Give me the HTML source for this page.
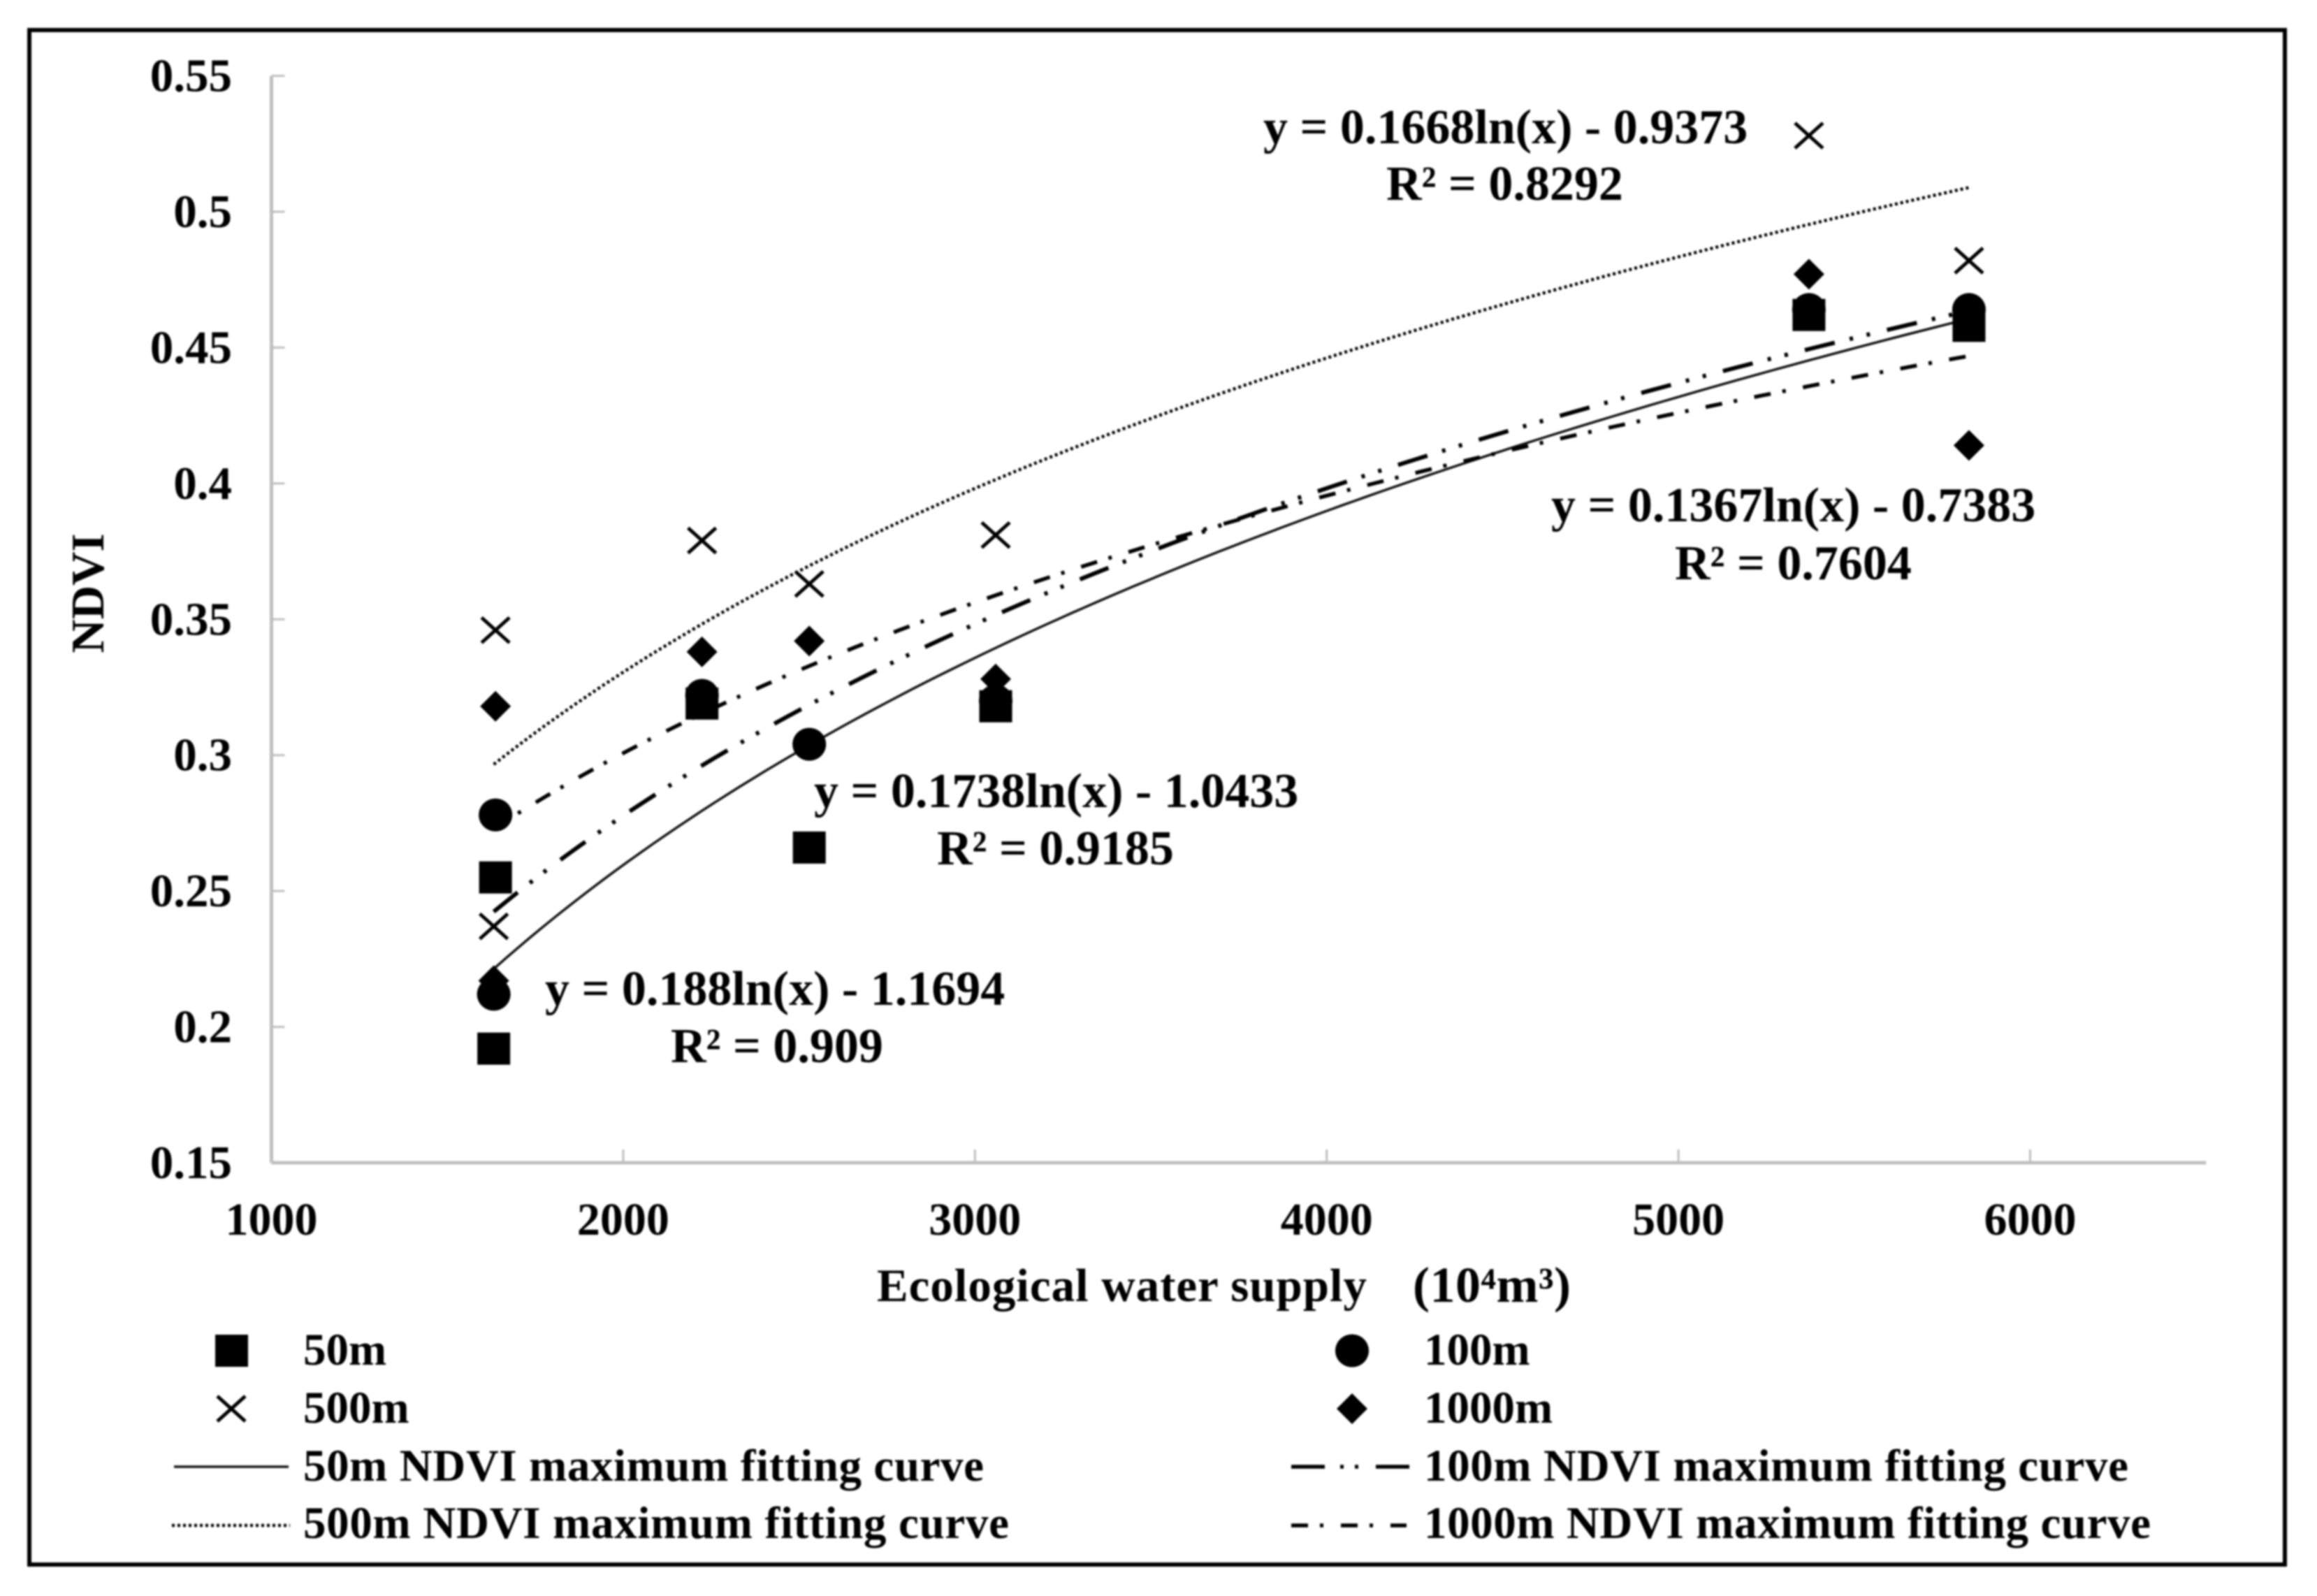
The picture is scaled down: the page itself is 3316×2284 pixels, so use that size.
<!DOCTYPE html>
<html lang="en">
<head>
<meta charset="utf-8">
<title>NDVI vs Ecological water supply</title>
<style>
html,body{margin:0;padding:0;background:#fff;}
svg{display:block;filter:blur(1.2px);}
text{font-family:"Liberation Serif","Noto Serif CJK SC",serif;font-weight:bold;fill:#000;}
</style>
</head>
<body>
<svg id="chart" xmlns="http://www.w3.org/2000/svg" width="3316" height="2284" viewBox="0 0 3316 2284">
  <rect x="0" y="0" width="3316" height="2284" fill="#fff"/>
  <rect x="42" y="43" width="3228" height="2196" fill="none" stroke="#000" stroke-width="6"/>
  <g id="axes"></g>
  <g id="curves"></g>
  <g id="points"></g>

  <text transform="translate(148,849) rotate(-90)" text-anchor="middle" font-size="67">NDVI</text>
  <text x="1255" y="1862" font-size="67" textLength="701">Ecological water supply</text>
  <text x="2022" y="1863" font-size="72" textLength="226">(10<tspan>⁴</tspan>m<tspan>³</tspan>)</text>

  <g font-size="70">
    <text x="1808" y="205">y = 0.1668ln(x) - 0.9373</text>
    <text x="1984" y="286">R² = 0.8292</text>
  </g>
  <g font-size="70">
    <text x="2220" y="746">y = 0.1367ln(x) - 0.7383</text>
    <text x="2397" y="829">R² = 0.7604</text>
  </g>
  <g font-size="70">
    <text x="1165" y="1155">y = 0.1738ln(x) - 1.0433</text>
    <text x="1341" y="1237">R² = 0.9185</text>
  </g>
  <g font-size="70">
    <text x="780" y="1438">y = 0.188ln(x) - 1.1694</text>
    <text x="960" y="1520">R² = 0.909</text>
  </g>

  <g font-size="65">
    <g>
      <rect x="308" y="1910" width="47" height="46" fill="#000"/>
      <text x="434" y="1953">50m</text>
    </g>
    <g>
      <ellipse cx="1935" cy="1933" rx="24" ry="23.5" fill="#000"/>
      <text x="2038" y="1953">100m</text>
    </g>
    <g>
      <path d="M311 1998L351 2034M351 1998L311 2034" fill="none" stroke="#000" stroke-width="5"/>
      <text x="434" y="2036">500m</text>
    </g>
    <g>
      <polygon points="1935,1994 1957,2016 1935,2038 1913,2016" fill="#000"/>
      <text x="2038" y="2036">1000m</text>
    </g>
    <g>
      <line x1="249" y1="2099" x2="413" y2="2099" stroke="#111" stroke-width="3.5"/>
      <text x="434" y="2119" textLength="974">50m NDVI maximum fitting curve</text>
    </g>
    <g>
      <line x1="1848" y1="2099" x2="2019" y2="2099" stroke="#000" stroke-width="5.5" stroke-dasharray="48 22 5 16 5 25"/>
      <text x="2038" y="2119" textLength="1008">100m NDVI maximum fitting curve</text>
    </g>
    <g>
      <line x1="246" y1="2183" x2="415" y2="2183" stroke="#000" stroke-width="4.5" stroke-dasharray="4 4"/>
      <text x="434" y="2201" textLength="1010">500m NDVI maximum fitting curve</text>
    </g>
    <g>
      <line x1="1848" y1="2183" x2="2013" y2="2183" stroke="#000" stroke-width="5.5" stroke-dasharray="24 17 5 25"/>
      <text x="2038" y="2201" textLength="1040">1000m NDVI maximum fitting curve</text>
    </g>
  </g>
</svg>
<script>
// Chart data
const xTicks = [1000, 2000, 3000, 4000, 5000, 6000];
const yTicks = [0.15, 0.2, 0.25, 0.3, 0.35, 0.4, 0.45, 0.5, 0.55];
const supply = [1632, 1637, 2224, 2529, 3059, 5371, 5826];
const ndvi50 = [0.192, 0.255, 0.319, 0.266, 0.318, 0.462, 0.458];
const ndvi100 = [0.212, 0.278, 0.322, 0.304, 0.320, 0.464, 0.464];
const ndvi500 = [0.237, 0.346, 0.379, 0.363, 0.381, 0.528, 0.482];
const ndvi1000 = [0.217, 0.318, 0.338, 0.342, 0.328, 0.477, 0.414];
// Printed trendline coefficients: y = slope * ln(x) + intercept
const curveNames = ['50m', '100m', '500m', '1000m'];
const curveSlopes = [0.188, 0.1738, 0.1668, 0.1367];
const curveIntercepts = [-1.1694, -1.0433, -0.9373, -0.7383];

// Axis functions
const xScale = v => 388.5 + (v - 1000) * 0.5034;
const yScale = v => 1664 - (v - 0.15) * 3888.75;
const NS = 'http://www.w3.org/2000/svg';
function make(tag, attrs, parent) {
  const el = document.createElementNS(NS, tag);
  for (const k in attrs) el.setAttribute(k, attrs[k]);
  parent.appendChild(el);
  return el;
}
const axes = document.getElementById('axes');
const curves = document.getElementById('curves');
const points = document.getElementById('points');
const axisColor = '#bfbfbf';

const xLine = make('line', {x1: xScale(1000), y1: yScale(0.15), x2: xScale(6500), y2: yScale(0.15), stroke: axisColor, 'stroke-width': 5}, axes);


const yLine = make('line', {x1: xScale(1000), y1: yScale(0.15), x2: xScale(1000), y2: yScale(0.55), stroke: axisColor, 'stroke-width': 5}, axes);



xTicks.forEach(v => {
  const tick = make('line', {x1: xScale(v), y1: yScale(0.15), x2: xScale(v), y2: yScale(0.15) - 19, stroke: axisColor, 'stroke-width': 3}, axes);
  
  
  const label = make('text', {x: xScale(v), y: 1767, 'text-anchor': 'middle', 'font-size': 66}, axes);
  label.textContent = String(v);
  
  
});
yTicks.forEach(v => {
  const tick = make('line', {x1: xScale(1000), y1: yScale(v), x2: xScale(1000) + 19, y2: yScale(v), stroke: axisColor, 'stroke-width': 3}, axes);
  
  
  const label = make('text', {x: 332, y: yScale(v) + 22, 'text-anchor': 'end', 'font-size': 67}, axes);
  label.textContent = String(v);
  
  
});

// Fitted curves, drawn from the printed coefficients across the data range
const curveStyles = [
  {stroke: '#111', width: 3.5, dash: 'none'},
  {stroke: '#000', width: 6, dash: '44 22 5 20 5 25'},
  {stroke: '#000', width: 4.5, dash: '4 4'},
  {stroke: '#000', width: 5.5, dash: '24 17 5 25'}
];
curveNames.forEach((name, i) => {
  const xMin = Math.min(...supply), xMax = Math.max(...supply);
  let d = '';
  for (let s = 0; s <= 120; s++) {
    const x = xMin + (xMax - xMin) * s / 120;
    const y = curveSlopes[i] * Math.log(x) + curveIntercepts[i];
    d += (s ? 'L' : 'M') + xScale(x).toFixed(1) + ' ' + yScale(y).toFixed(1);
  }
  const st = curveStyles[i];
  const path = make('path', {d: d, fill: 'none', stroke: st.stroke, 'stroke-width': st.width, 'stroke-dasharray': st.dash}, curves);
  
  
});

// Markers
supply.forEach((x, i) => {
  const cx = xScale(x);
  const circle = make('ellipse', {cx: cx, cy: yScale(ndvi100[i]), rx: 24, ry: 23.5, fill: '#000'}, points);
  
  
  const sy = yScale(ndvi50[i]);
  const square = make('rect', {x: cx - 23.5, y: sy - 23, width: 47, height: 46, fill: '#000'}, points);
  
  
  const dy = yScale(ndvi1000[i]);
  const diamond = make('polygon', {points: cx + ',' + (dy - 22) + ' ' + (cx + 22) + ',' + dy + ' ' + cx + ',' + (dy + 22) + ' ' + (cx - 22) + ',' + dy, fill: '#000'}, points);
  
  
  const xy = yScale(ndvi500[i]);
  const cross = make('path', {d: 'M' + (cx - 20) + ' ' + (xy - 18) + 'L' + (cx + 20) + ' ' + (xy + 18) + 'M' + (cx + 20) + ' ' + (xy - 18) + 'L' + (cx - 20) + ' ' + (xy + 18), fill: 'none', stroke: '#000', 'stroke-width': 5}, points);
  
  
});
</script>
</body>
</html>
